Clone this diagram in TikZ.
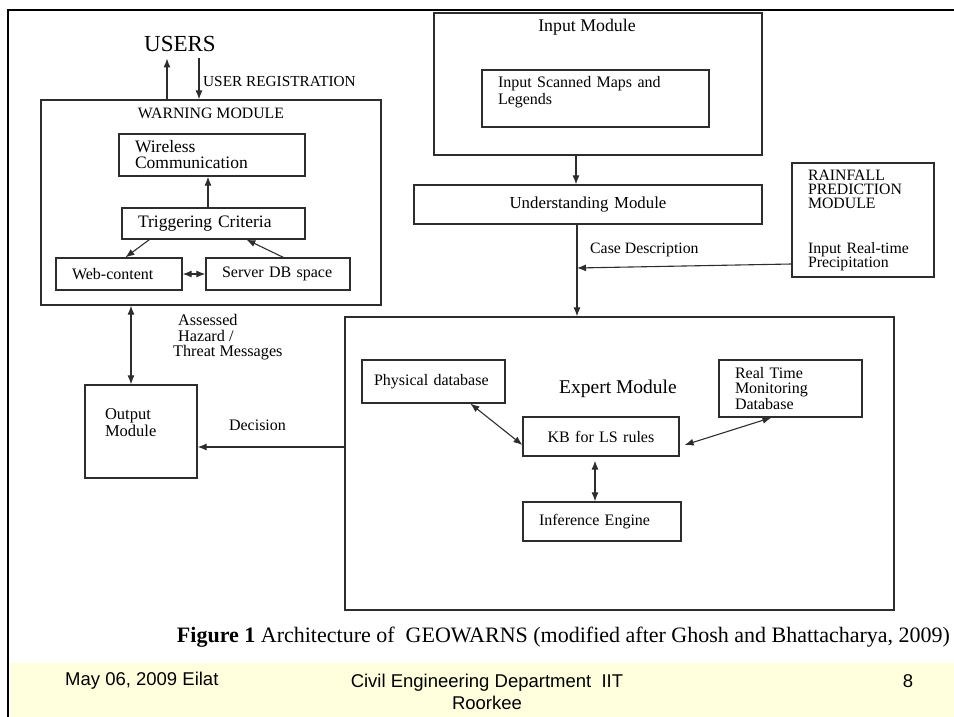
\documentclass[tikz,border=0pt]{standalone}
\usepackage{fontspec}
\setmainfont{Liberation Serif}
\newfontfamily\footfont{Liberation Sans}
\usetikzlibrary{arrows.meta}

\definecolor{footyellow}{RGB}{255,255,221}
\definecolor{linegray}{RGB}{45,45,45}

\tikzset{
	box/.style = {draw = linegray, line width = 1.2pt, inner xsep = 16pt, inner ysep = 0pt, align = left, font = \fontsize{16}{16}\selectfont},
	frame/.style = {draw = linegray, line width = 1.2pt, inner sep = 0pt},
	txt/.style = {inner sep = 0pt, font = \fontsize{16}{16}\selectfont},
	arr/.style = {->, draw = linegray, line width = 1.1pt},
	dblarr/.style = {<->, draw = linegray, line width = 1.1pt}
}

\begin{document}
\begin{tikzpicture}[x = 1pt, y = -1pt, > = {Latex[length = 9pt, width = 7pt]}]

	\useasboundingbox (0, 0) rectangle (954, 717);

	% Slide footer and frame

	\fill [footyellow] (9.5, 663) rectangle (954, 717);
	\draw [line width = 2.5pt] (8, 717) -- (8, 10) -- (954, 10);

	\node [inner sep = 0pt, anchor = west, font = \footfont\fontsize{18.5}{22}\selectfont] (fdate) at (65, 681) {May 06, 2009 Eilat};
	\node [inner sep = 0pt, align = center, font = \footfont\fontsize{18.5}{22}\selectfont] (fdept) at (487, 691.5) {Civil Engineering Department\ \ IIT\\Roorkee};
	\node [inner sep = 0pt, font = \footfont\fontsize{18.5}{22}\selectfont] (fpage) at (908, 681) {8};

	% Users

	\node [inner xsep = 4pt, inner ysep = 6pt, anchor = base, font = \fontsize{23}{23}\selectfont] (users) at (180, 52) {USERS};
	\node [txt, anchor = west, font = \fontsize{15.3}{16}\selectfont] (reglab) at (203, 82) {USER REGISTRATION};

	% Warning module

	\node [frame, minimum width = 340pt, minimum height = 205pt] (warn) at (211, 202.5) {};
	\node [txt, font = \fontsize{15.8}{16}\selectfont] (warnlab) at (211, 113) {WARNING MODULE};

	\node [box, text width = 154pt, minimum height = 42pt, font = \fontsize{17.5}{16}\selectfont] (wless) at (212, 155) {Wireless\\Communication};
	\node [box, text width = 151pt, minimum height = 31pt, font = \fontsize{17.5}{16}\selectfont] (trig) at (213.5, 223.5) {Triggering Criteria};
	\node [box, text width = 94pt, minimum height = 32pt] (web) at (119, 274) {Web-content};
	\node [box, text width = 112pt, minimum height = 32pt] (server) at (278, 274) {Server DB space};

	\draw [arr] ([xshift = -5.5pt] trig.north) -- ([xshift = -4pt] wless.south);
	\draw [arr] ([xshift = 28pt] trig.south west) -- ([xshift = 70pt] web.north west);
	\draw [arr] ([xshift = 78pt] server.north west) -- ([xshift = 125pt] trig.south west);
	\draw [dblarr] (web) -- (server);

	\coordinate (upx) at (167, 0);
	\coordinate (downx) at (199, 0);
	\draw [arr] (upx |- warn.north) -- (upx |- users.south);
	\draw [arr] (downx |- users.south) -- (downx |- warn.north);

	% Output module

	\node [box, inner xsep = 20pt, text width = 72pt, minimum height = 93pt, font = \fontsize{16.5}{17}\selectfont] (outp) at (141, 431.5) {Output\\Module\\\mbox{}};
	\node [txt, anchor = west, align = left, font = \fontsize{16.2}{15.5}\selectfont] (asslab) at (173, 337.5) {\hspace*{5pt}Assessed\\\hspace*{5pt}Hazard /\\Threat Messages};

	\coordinate (asx) at (131, 0);
	\draw [dblarr] (asx |- warn.south) -- (asx |- outp.north);

	% Input side

	\node [frame, minimum width = 328pt, minimum height = 142pt] (inmod) at (598, 84) {};
	\node [txt, font = \fontsize{17.8}{18}\selectfont] (inlab) at (587, 27) {Input Module};
	\node [box, text width = 195pt, minimum height = 57pt, font = \fontsize{16}{17}\selectfont] (scan) at (595.5, 98.5) {Input Scanned Maps and\\Legends\\\mbox{}};

	\node [box, align = center, text width = 316pt, minimum height = 39pt, font = \fontsize{16.8}{17}\selectfont] (under) at (588, 204.5) {Understanding Module};
	\draw [arr] ([xshift = -22pt] inmod.south) -- ([xshift = -12pt] under.north);

	\node [box, text width = 110pt, minimum height = 114pt, font = \fontsize{15.8}{14}\selectfont] (rain) at (863, 220) {RAINFALL\\PREDICTION\\MODULE\\[31pt]Input Real-time\\Precipitation};

	\node [txt, anchor = west, font = \fontsize{15.8}{16}\selectfont] (caselab) at (590, 250) {Case Description};

	% Expert module

	\node [frame, minimum width = 549pt, minimum height = 293pt] (expert) at (619.5, 463.5) {};
	\node [txt, font = \fontsize{19.5}{19}\selectfont] (explab) at (618, 389) {Expert Module};

	\node [box, inner xsep = 12pt, text width = 119pt, minimum height = 43pt] (phys) at (433.5, 381.5) {Physical database};
	\node [box, text width = 111pt, minimum height = 57pt, font = \fontsize{16}{14.5}\selectfont] (realt) at (790.5, 388.5) {Real Time\\Monitoring\\Database};
	\node [box, align = center, text width = 124pt, minimum height = 39pt] (kb) at (601, 436.5) {KB for LS rules};
	\node [box, text width = 126pt, minimum height = 39pt] (infer) at (602, 521.5) {Inference Engine};

	\draw [dblarr] ([xshift = 109pt] phys.south west) -- ([yshift = -8.5pt] kb.west);
	\draw [dblarr] ([xshift = 53pt] realt.south west) -- ([xshift = 5pt, yshift = -8.5pt] kb.east);
	\draw [dblarr] ([xshift = -6pt, yshift = -4pt] kb.south) -- ([xshift = -7pt] infer.north);

	% Case description and decision flow

	\coordinate (casej) at (577, 268);
	\draw [arr] ([xshift = -11pt] under.south) -- ([xshift = -42.5pt] expert.north);
	\draw [arr] ([yshift = -44pt] rain.west) -- (casej);

	\coordinate (decy) at (0, 447);
	\draw [arr] (decy -| expert.west) -- (decy -| outp.east);
	\node [txt] (declab) at (257.5, 425) {Decision};

	% Caption

	\node [txt, font = \fontsize{22}{22}\selectfont] (capt) at (563.5, 637) {\textbf{Figure 1} Architecture of\ \ GEOWARNS (modified after Ghosh and Bhattacharya, 2009)};

\end{tikzpicture}
\end{document}
